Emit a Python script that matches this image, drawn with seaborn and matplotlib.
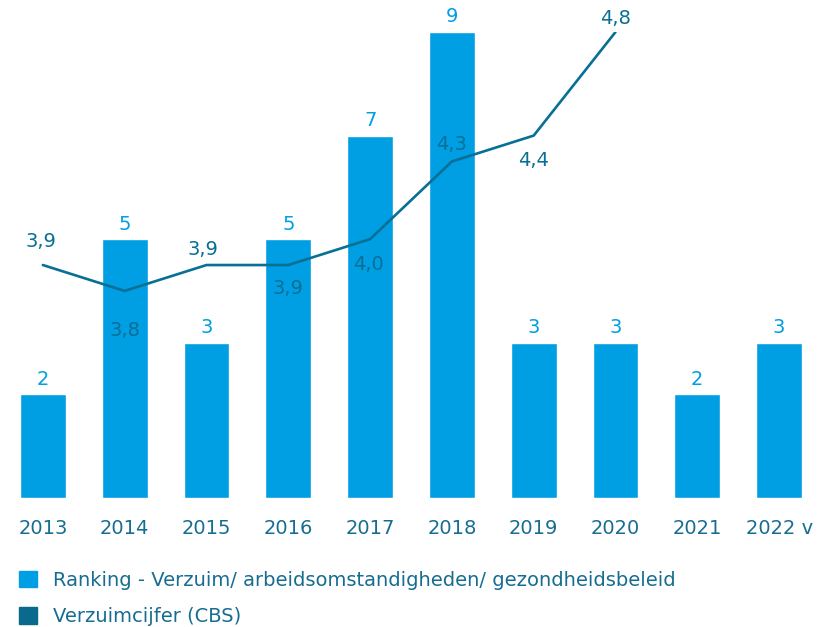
import matplotlib
matplotlib.use("Agg")
import matplotlib.pyplot as plt
from matplotlib.patches import Patch
import numpy as np
import pandas as pd
import seaborn as sns

sns.set_theme(style="white")
plt.rcParams["font.family"] = ["DejaVu Sans"]

# Data
years = ["2013", "2014", "2015", "2016", "2017", "2018", "2019", "2020", "2021", "2022 v"]
ranking = [2, 5, 3, 5, 7, 9, 3, 3, 2, 3]
verzuim_years = ["2013", "2014", "2015", "2016", "2017", "2018", "2019", "2020"]
verzuim = [3.9, 3.8, 3.9, 3.9, 4.0, 4.3, 4.4, 4.8]
verzuim_labels = ["3,9", "3,8", "3,9", "3,9", "4,0", "4,3", "4,4", "4,8"]

BAR_COLOR = "#009FE3"
LINE_COLOR = "#086F95"
TEXT_COLOR = "#176D91"
FS = 14

# label offsets (pixels) for the line values
label_offsets = [(-2, 24), (0, -40), (-4, 16), (0, -23), (-2, -25), (0, 17), (0, -25), (0, 14)]

fig = plt.figure(figsize=(8.2, 6.27), dpi=100)
ax = fig.add_axes([0.0024, 0.2057, 0.9976, 0.7432])

bars_df = pd.DataFrame({"year": years, "ranking": ranking})
sns.barplot(data=bars_df, x="year", y="ranking", color=BAR_COLOR, width=0.56,
            saturation=1, ax=ax)
ax.bar_label(ax.containers[0], padding=4, color=BAR_COLOR, fontsize=FS)
ax.set_ylim(0, 9)
ax.set_xlim(-0.5, len(years) - 0.5)

ax2 = ax.twinx()
line_df = pd.DataFrame({"pos": [years.index(y) for y in verzuim_years], "value": verzuim})
sns.lineplot(data=line_df, x="pos", y="value", color=LINE_COLOR, linewidth=1.9, ax=ax2)
ax2.set_ylim(3.0, 4.8)

for (x, v, lab, (dx, dy)) in zip(line_df["pos"], verzuim, verzuim_labels, label_offsets):
    ax2.annotate(lab, (x, v), xytext=(dx * 0.72, dy * 0.72), textcoords="offset points",
                 ha="center", va="center", color=LINE_COLOR, fontsize=FS)

for a in (ax, ax2):
    for s in a.spines.values():
        s.set_visible(False)
    a.set_xlabel("")
    a.set_ylabel("")
    a.set_yticks([])
ax.tick_params(axis="x", length=0, pad=15, labelsize=FS, labelcolor=TEXT_COLOR)
ax2.set_xlim(-0.5, len(years) - 0.5)

handles = [Patch(color=BAR_COLOR), Patch(color="#0A6A8E")]
fig.legend(handles, ["Ranking - Verzuim/ arbeidsomstandigheden/ gezondheidsbeleid",
                     "Verzuimcijfer (CBS)"],
           loc="upper left", bbox_to_anchor=(0.023, 0.090), frameon=False,
           fontsize=FS, labelcolor=TEXT_COLOR, handlelength=0.93, handleheight=0.93,
           handletextpad=0.82, labelspacing=0.9, borderpad=0, borderaxespad=0)

fig.savefig("out.png", dpi=100)
